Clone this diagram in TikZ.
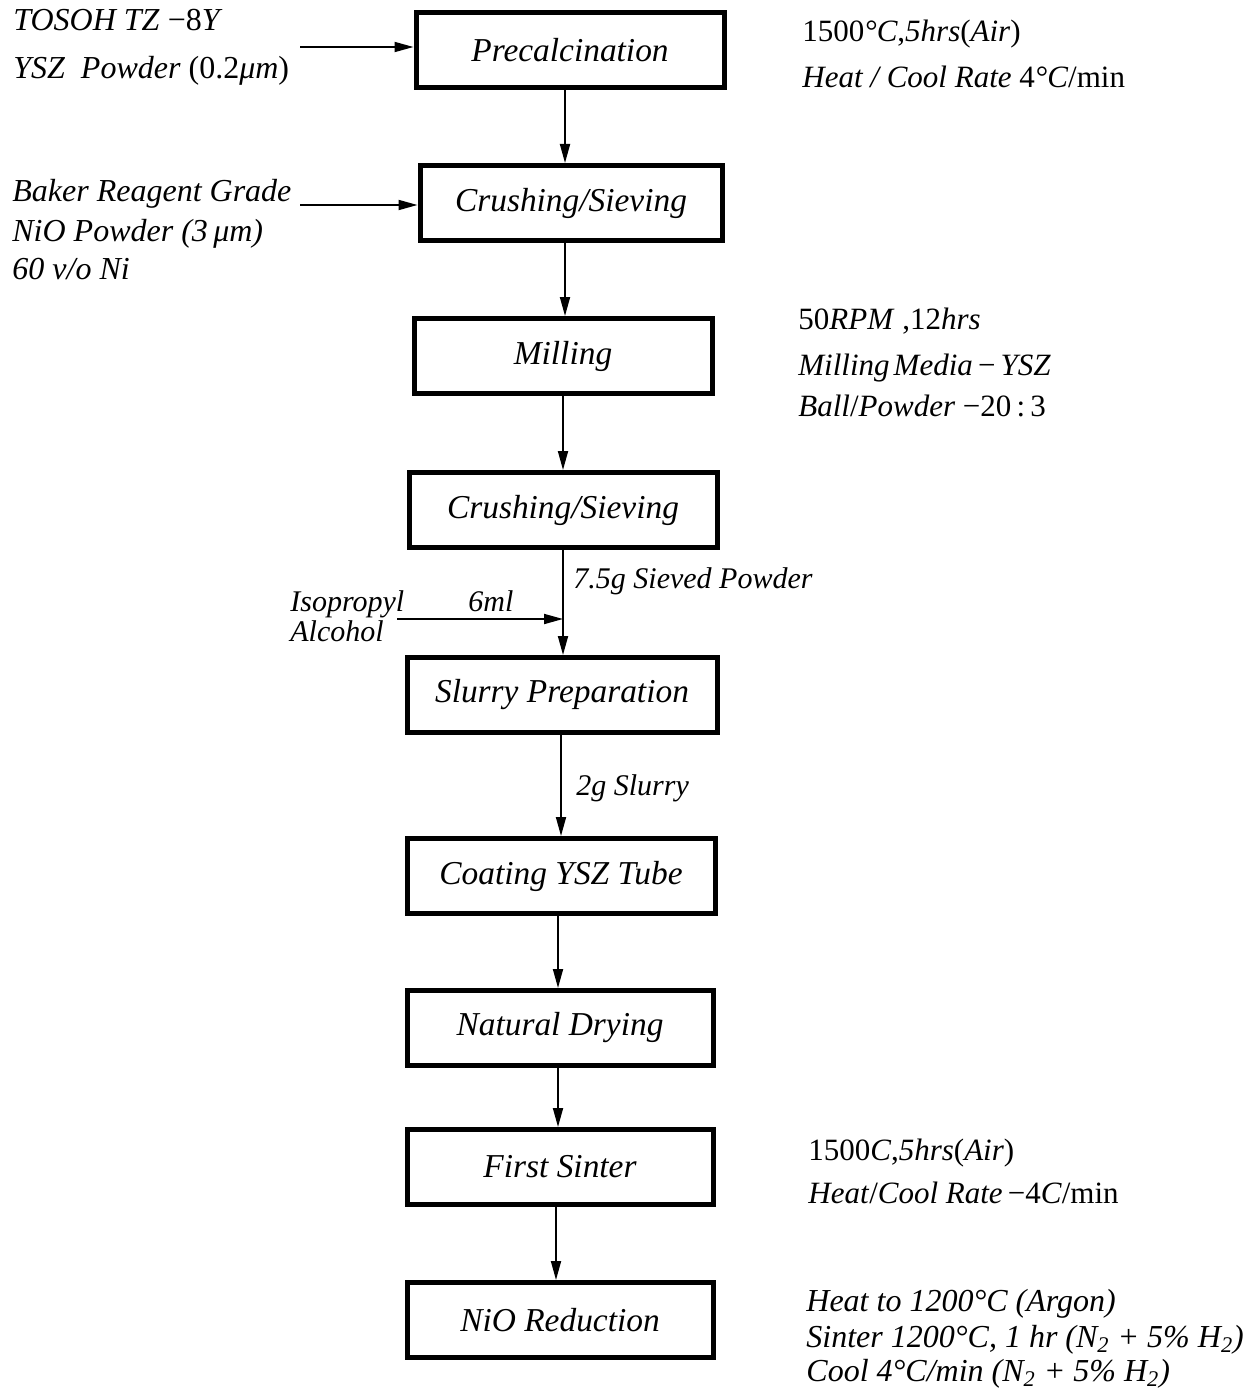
\documentclass[tikz,border=0pt]{standalone}
\usepackage{fontspec}
\setmainfont{Liberation Serif}
\usetikzlibrary{arrows.meta}
\begin{document}
\begin{tikzpicture}[x=0.5pt,y=-0.5pt,
  stepbox/.style={draw, line width=2.5pt, minimum width=153pt, minimum height=37.5pt, inner sep=0pt, font=\fontsize{16.7}{19}\selectfont\itshape},
  lbl/.style={anchor=base west, inner sep=0pt, font=\fontsize{16}{19}\selectfont},
  rlbl/.style={anchor=base west, inner sep=0pt, font=\fontsize{15.5}{19}\selectfont},
  ilbl/.style={anchor=base west, inner sep=0pt, font=\fontsize{16}{19}\selectfont\itshape},
  slbl/.style={anchor=base west, inner sep=0pt, font=\fontsize{15}{18}\selectfont\itshape},
  conn/.style={line width=0.9pt, -{Triangle[length=9.5pt,width=5pt]}}
]
\useasboundingbox (0,0) rectangle (1247,1391);
\fill[white] (0,0) rectangle (1247,1391);

% process boxes
\node[stepbox, minimum width=154pt] (b1) at (570,50) {Precalcination};
\node[stepbox, minimum width=151pt] (b2) at (571,203) {Crushing/Sieving};
\node[stepbox, minimum width=149pt] (b3) at (563,356) {Milling};
\node[stepbox, minimum width=154pt] (b4) at (563,510) {Crushing/Sieving};
\node[stepbox, minimum width=155pt] (b5) at (562,695) {Slurry Preparation};
\node[stepbox, minimum width=154pt] (b6) at (561,876) {Coating YSZ Tube};
\node[stepbox] (b7) at (560,1028) {Natural Drying};
\node[stepbox] (b8) at (560,1167) {First Sinter};
\node[stepbox] (b9) at (560,1320) {NiO Reduction};

% vertical connectors
\draw[conn] ([xshift=-2.5pt]b1.south) -- ([xshift=-2.5pt]b1.south |- b2.north);
\draw[conn] ([xshift=-3pt]b2.south) -- ([xshift=-3pt]b2.south |- b3.north);
\draw[conn] (b3.south) -- (b3.south |- b4.north);
\draw[conn] (b4.south) -- (b4.south |- b5.north);
\draw[conn] ([xshift=-0.5pt]b5.south) -- ([xshift=-0.5pt]b5.south |- b6.north);
\draw[conn] ([xshift=-1.5pt]b6.south) -- ([xshift=-1.5pt]b6.south |- b7.north);
\draw[conn] ([xshift=-1pt]b7.south) -- ([xshift=-1pt]b7.south |- b8.north);
\draw[conn] ([xshift=-2pt]b8.south) -- ([xshift=-2pt]b8.south |- b9.north);

% input connectors
\coordinate (i1) at (300,47);
\coordinate (i2) at (300,205);
\coordinate (i3) at (397,619);
\draw[conn] (i1) -- (i1 -| b1.west);
\draw[conn] (i2) -- (i2 -| b2.west);
\draw[conn] (i3) -- (i3 -| b4.south);

% left texts
\node[lbl] (t1) at (13,31) {\textit{TOSOH TZ} −8\textit{Y}};
\node[lbl] (t2) at (13,79) {\textit{YSZ\ \ Powder} (0.2\textit{μm})};
\node[ilbl] (t3) at (12,202) {Baker Reagent Grade};
\node[ilbl] (t4) at (12,242) {NiO Powder (3\,μm)};
\node[ilbl] (t5) at (12,279) {60 v/o Ni};

% right texts
\node[rlbl] (r1) at (802,42) {1500\textit{°C},\textit{5hrs}(\textit{Air})};
\node[rlbl] (r2) at (802,88) {\textit{Heat / Cool Rate} 4\textit{°C}/min};
\node[rlbl] (r3) at (798,329) {50\textit{RPM} ,12\textit{hrs}};
\node[rlbl] (r4) at (798,375) {\textit{Milling\hspace{2pt}Media}\,−\,\textit{YSZ}};
\node[rlbl] (r5) at (798,416) {\textit{Ball}/\textit{Powder} −20\,:\,3};
\node[rlbl] (r6) at (808,1160) {1500\textit{C},\textit{5hrs}(\textit{Air})};
\node[rlbl] (r7) at (808,1203) {\textit{Heat}/\textit{Cool Rate}\,−4\textit{C}/min};
\node[ilbl] (r8) at (806,1311) {Heat to 1200°C (Argon)};
\node[ilbl] (r9) at (806,1347) {Sinter 1200°C, 1 hr (N\textsubscript{2} + 5\% H\textsubscript{2})};
\node[ilbl] (r10) at (806,1381) {Cool 4°C/min (N\textsubscript{2} + 5\% H\textsubscript{2})};

% connector labels
\node[slbl] (s1) at (573,588) {7.5g Sieved Powder};
\node[slbl] (s2) at (290,611) {Isopropyl};
\node[slbl] (s3) at (290,641) {Alcohol};
\node[slbl] (s4) at (468,611) {6ml};
\node[slbl] (s5) at (576,795) {2g Slurry};
\end{tikzpicture}
\end{document}
